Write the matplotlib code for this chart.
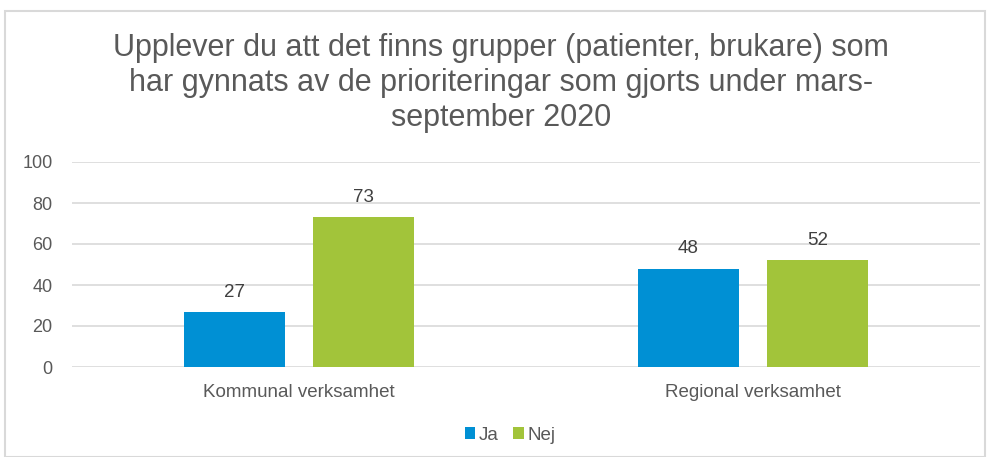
import matplotlib.pyplot as plt
import numpy as np
from matplotlib.patches import Rectangle

categories = ["Kommunal verksamhet", "Regional verksamhet"]
ja = [27, 48]
nej = [73, 52]
series_names = ["Ja", "Nej"]
yticks = [0, 20, 40, 60, 80, 100]
title = ("Upplever du att det finns grupper (patienter, brukare) som\n"
         "har gynnats av de prioriteringar som gjorts under mars-\n"
         "september 2020")

plt.rcParams['font.family'] = ['Liberation Sans', 'DejaVu Sans']
text_color = "#595959"

fig = plt.figure(figsize=(9.92, 4.57), dpi=100)
ax = fig.add_axes([72 / 992, 1 - 367 / 457, 908 / 992, 205 / 457])

x = np.arange(len(categories))
w = 0.2225
off = 0.143
b1 = ax.bar(x - off, ja, w, color="#0090D4", label=series_names[0])
b2 = ax.bar(x + off, nej, w, color="#A2C43A", label=series_names[1])

for bars in (b1, b2):
    for r in bars:
        ax.annotate(f"{r.get_height():.0f}", (r.get_x() + r.get_width() / 2, r.get_height()),
                    xytext=(0, 8), textcoords="offset points", ha="center", va="bottom",
                    fontsize=13.5, color="#404040")

ax.set_xlim(-0.5, 1.5)
ax.set_ylim(0, 100)
ax.set_yticks(yticks)
ax.set_xticks(x)
ax.set_xticklabels(categories)
ax.grid(axis="y", color="#d9d9d9", linewidth=1.2)
ax.set_axisbelow(True)
for s in ax.spines.values():
    s.set_visible(False)
ax.tick_params(length=0, colors=text_color)
ax.tick_params(axis="y", labelsize=13, pad=14)
ax.tick_params(axis="x", labelsize=13.5, pad=12)

fig.text(501 / 992, 1 - 83 / 457, title, ha="center", va="center", fontsize=22,
         color=text_color, linespacing=1.22)

fig.legend(loc="center", bbox_to_anchor=(510 / 992, 1 - 435 / 457), ncol=2, frameon=False,
           handlelength=0.55, handleheight=0.55, handletextpad=0.2, columnspacing=0.8,
           prop={'size': 13.5}, labelcolor=text_color)

fig.patches.append(Rectangle((5 / 992, 0), 980 / 992, 1 - 11 / 457, transform=fig.transFigure,
                             fill=False, edgecolor="#d9d9d9", linewidth=1.5))

fig.savefig("out.png", dpi=100)
